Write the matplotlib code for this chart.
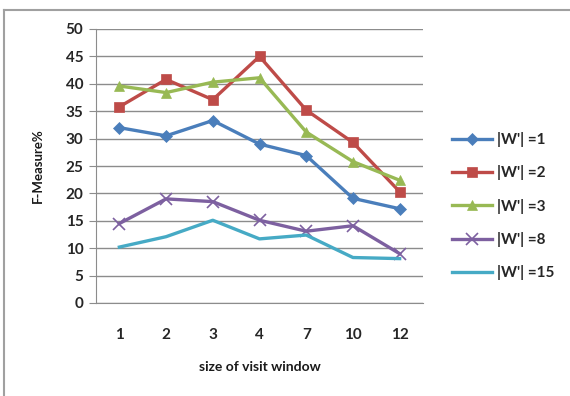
import matplotlib
matplotlib.use("Agg")
import matplotlib.pyplot as plt
from matplotlib.lines import Line2D

plt.rcParams['font.family'] = ['Lato', 'DejaVu Sans']

windows = ["1", "2", "3", "4", "7", "10", "12"]
w1 = [32.0, 30.5, 33.3, 29.0, 26.9, 19.1, 17.2]
w2 = [35.8, 40.8, 37.1, 45.0, 35.2, 29.3, 20.3]
w3 = [39.6, 38.4, 40.3, 41.1, 31.2, 25.8, 22.4]
w8 = [14.5, 19.0, 18.5, 15.1, 13.1, 14.1, 9.0]
w15 = [10.2, 12.1, 15.1, 11.7, 12.4, 8.3, 8.1]
labels = ["|W'| =1", "|W'| =2", "|W'| =3", "|W'| =8", "|W'| =15"]

series = [w1, w2, w3, w8, w15]
colors = ["#4A7EBB", "#BE4B48", "#98B954", "#7D60A0", "#46AAC5"]
markers = ["D", "s", "^", "x", None]
msizes = [6.5, 7.5, 7.5, 8, 0]

fig = plt.figure(figsize=(5.7, 3.96), dpi=100)
ax = fig.add_axes([96 / 570, 1 - 303 / 396, 327 / 570, 274 / 396])

x = list(range(len(windows)))
for vals, c, m, ms, lab in zip(series, colors, markers, msizes, labels):
    ax.plot(x, vals, color=c, lw=2.4, marker=m, markersize=ms,
            markeredgewidth=1.2 if m == "x" else 0.5, markeredgecolor=c,
            label=lab, solid_joinstyle="round")

ax.set_xlim(-0.5, len(windows) - 0.5)
ax.set_ylim(0, 50)
ax.set_yticks(range(0, 51, 5))
ax.set_xticks(x)
ax.set_xticklabels(windows)
ax.yaxis.grid(True, color="#8c8c8c", lw=1)
ax.set_axisbelow(True)
for s in ["top", "right"]:
    ax.spines[s].set_visible(False)
ax.spines["left"].set_color("#8c8c8c")
ax.spines["bottom"].set_color("#8c8c8c")
ax.tick_params(axis="y", length=5, color="#8c8c8c", labelsize=11,
               labelcolor="#262626", pad=4)
ax.tick_params(axis="x", length=0, labelsize=11, labelcolor="#262626", pad=18)
for t in ax.get_xticklabels() + ax.get_yticklabels():
    t.set_fontweight("bold")

ax.set_xlabel("size of visit window", fontsize=10, fontweight="bold",
              color="#1a1a1a", labelpad=14)
ax.set_ylabel("F-Measure%", fontsize=9.5, fontweight="bold",
              color="#1a1a1a", labelpad=16)

leg = fig.legend(loc="upper left", bbox_to_anchor=(446 / 570, 1 - 126 / 396),
                 frameon=False, fontsize=11, handlelength=2.6,
                 labelspacing=1.2, handletextpad=0.35, borderaxespad=0)
for t in leg.get_texts():
    t.set_color("#262626")
    t.set_fontweight("bold")

# chart frame edges
fig.add_artist(Line2D([4 / 570, 1], [1 - 10 / 396] * 2, color="#a0a0a0", lw=1.5))
fig.add_artist(Line2D([4 / 570] * 2, [0, 1 - 10 / 396], color="#a0a0a0", lw=1.5))

fig.savefig("out.png", dpi=100)
